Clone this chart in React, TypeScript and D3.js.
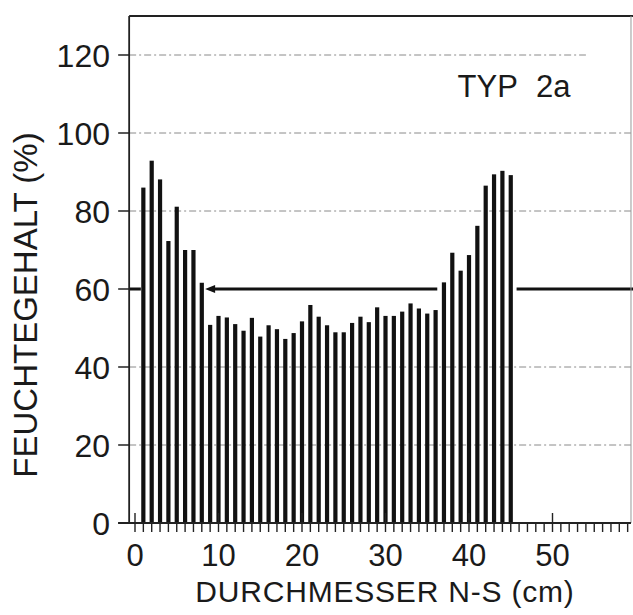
import React from 'react';
import * as d3 from 'd3';

// Feuchtegehalt (%) per cm of diameter, cm 1..45
const positions = d3.range(1, 46);
const moisture = [
  86.0, 92.9, 88.1, 72.3, 81.1, 70.0, 70.0, 61.6, 50.8, 53.1,
  52.7, 51.0, 49.3, 52.6, 47.8, 50.7, 49.7, 47.2, 48.7, 51.7,
  55.9, 52.9, 50.7, 48.9, 48.9, 51.3, 52.9, 51.5, 55.3, 53.1,
  53.1, 54.2, 56.3, 55.0, 53.7, 54.6, 61.7, 69.3, 64.7, 68.7,
  76.2, 86.5, 89.4, 90.3, 89.2,
];
const yTicks = [0, 20, 40, 60, 80, 100, 120];
const xTicks = [0, 10, 20, 30, 40, 50];
const gridLevels = [20, 40, 80, 100, 120];
// reference level 60 %: [from cm, to cm, arrow?]
const levelValue = 60;
const levelSegments: [number, number, boolean][] = [
  [-0.7, 0.7, false],
  [36.2, 8.4, true],
  [45.7, 60, false],
];

const W = 633;
const H = 615;
const FONT = '"Liberation Sans", Arial, Helvetica, sans-serif';

export default function App() {
  const x = d3.scaleLinear().domain([0, 50]).range([135, 552.5]);
  const y = d3.scaleLinear().domain([0, 120]).range([523, 55]);

  const left = x(-0.7);
  const right = x(59.4);
  const top = 16;
  const bottom = y(0);
  const barW = 4.2;
  const minor = d3.range(0, 60);

  return (
    <svg width={W} height={H} style={{ position: 'absolute', left: 0, top: 0, background: '#fff' }}
      fontFamily={FONT}>
      {/* gridlines */}
      {gridLevels.map((g) => (
        <line key={g} x1={left} x2={g === 120 ? x(54) : right} y1={y(g)} y2={y(g)}
          stroke="#8a8a8a" strokeWidth={1} strokeDasharray="7 3 2 3" />
      ))}

      {/* bars */}
      {moisture.map((v, i) => (
        <rect key={i} x={x(positions[i]) - barW / 2} y={y(v)} width={barW}
          height={bottom - y(v)} fill="#111" />
      ))}

      {/* level line with arrow */}
      {levelSegments.map(([a, b, arrow], i) => (
        <g key={i}>
          <line x1={x(a)} x2={arrow ? x(b) + 8 : x(b)} y1={y(levelValue)} y2={y(levelValue)}
            stroke="#111" strokeWidth={3} />
          {arrow && (
            <path d={`M${x(b)},${y(levelValue)} l10,-4 l0,8 z`} fill="#111" />
          )}
        </g>
      ))}

      {/* frame */}
      <line x1={left} x2={W} y1={top} y2={top} stroke="#222" strokeWidth={1.8} />
      <line x1={left} x2={left} y1={top} y2={bottom} stroke="#222" strokeWidth={1.8} />
      <line x1={right} x2={right} y1={top} y2={bottom} stroke="#999" strokeWidth={1} />
      <line x1={left - 11} x2={right} y1={bottom} y2={bottom} stroke="#222" strokeWidth={1.8} />

      {/* y ticks */}
      {yTicks.map((t) => (
        <g key={t}>
          <line x1={left - 11} x2={left} y1={y(t)} y2={y(t)} stroke="#222" strokeWidth={1.5} />
          <text x={110} y={y(t) + 11.5} textAnchor="end" fontSize={32} fill="#1a1a1a">{t}</text>
        </g>
      ))}

      {/* x ticks */}
      {minor.map((m) => (
        <line key={m} x1={x(m)} x2={x(m)} y1={m % 10 === 0 ? bottom - 10 : bottom}
          y2={bottom + 9} stroke="#222" strokeWidth={1.4} />
      ))}
      {xTicks.map((t) => (
        <text key={t} x={x(t)} y={566} textAnchor="middle" fontSize={31} fill="#1a1a1a">{t}</text>
      ))}

      {/* titles */}
      <text x={514} y={97} textAnchor="middle" fontSize={31} fill="#1a1a1a" wordSpacing={10}>TYP 2a</text>
      <text transform="translate(37,305) rotate(-90)" textAnchor="middle" fontSize={33} fill="#1a1a1a">
        FEUCHTEGEHALT (%)
      </text>
      <text x={385} y={602} textAnchor="middle" fontSize={30} letterSpacing={0.8} fill="#1a1a1a">
        DURCHMESSER N-S (cm)
      </text>
    </svg>
  );
}
